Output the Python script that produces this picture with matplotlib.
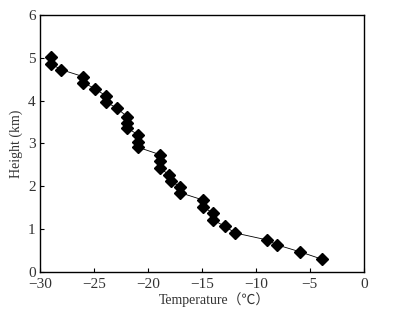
import matplotlib
matplotlib.use("Agg")
import matplotlib.pyplot as plt

plt.rcParams['font.family'] = ['Liberation Serif', 'Noto Sans CJK SC', 'DejaVu Sans']
plt.rcParams['axes.unicode_minus'] = True

temperature = [-29.0, -29.0, -28.0, -26.0, -26.0, -24.9, -23.9, -23.9, -22.9,
               -21.9, -21.9, -21.9, -20.9, -20.9, -20.9, -18.9, -18.9, -18.9,
               -18.0, -17.9, -17.0, -17.0, -14.9, -14.9, -14.0, -14.0, -12.9,
               -11.9, -9.0, -8.0, -5.9, -3.9]
height = [5.02, 4.86, 4.72, 4.56, 4.42, 4.28, 4.11, 3.97, 3.83,
          3.62, 3.48, 3.36, 3.20, 3.04, 2.91, 2.74, 2.58, 2.43,
          2.26, 2.13, 1.98, 1.85, 1.68, 1.52, 1.38, 1.22, 1.07,
          0.91, 0.75, 0.63, 0.47, 0.30]

xticks = [-30, -25, -20, -15, -10, -5, 0]
yticks = [0, 1, 2, 3, 4, 5, 6]

fig = plt.figure(figsize=(4.07, 3.17), dpi=100)
ax = fig.add_axes([0.098, 0.142, 0.796, 0.811])
ax.plot(temperature, height, color="black", lw=0.6, marker="D",
        markersize=6.5, markerfacecolor="black", markeredgecolor="black")
ax.set_xlim(-30, 0)
ax.set_ylim(0, 6)
ax.set_xticks(xticks)
ax.set_yticks(yticks)
ax.tick_params(direction="in", length=3, width=0.8, labelsize=11,
               labelcolor="#333333")
ax.tick_params(axis="x", pad=4)
ax.tick_params(axis="y", pad=3)
for s in ax.spines.values():
    s.set_linewidth(1.0)
ax.set_xlabel("Temperature（℃）", fontsize=10, color="#333333")
ax.xaxis.set_label_coords(0.54, -0.078)
ax.set_ylabel("Height (km)", fontsize=10, color="#333333", labelpad=4)

fig.savefig("out.png", dpi=100)
